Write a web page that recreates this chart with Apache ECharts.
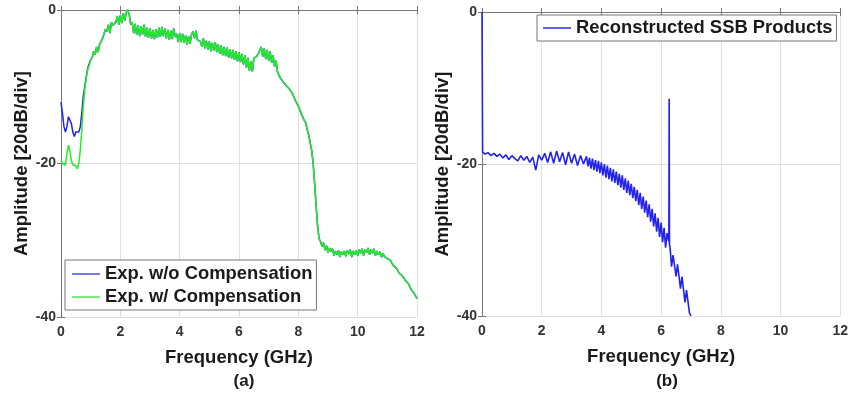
<!DOCTYPE html>
<html><head><meta charset="utf-8">
<script src="https://cdn.jsdelivr.net/npm/echarts@6/dist/echarts.min.js"></script>
<style>html,body{margin:0;padding:0;background:#fff}#c{width:851px;height:393px}</style>
</head><body><div id="c"></div>
<script>
// ---- Data ----
const xTicks = [0, 2, 4, 6, 8, 10, 12];
const yTicks = [-40, -20, 0];
const legendA = ['Exp. w/o Compensation', 'Exp. w/ Compensation'];
const legendB = ['Reconstructed SSB Products'];
const captions = ['(a)', '(b)'];

// Panel (a): with compensation [GHz, dB]
const greenComp = [[0,-19.6],[0.05,-20.0],[0.1,-19.9],[0.15,-20.2],[0.2,-18.7],[0.25,-17.6],[0.3,-18.4],[0.35,-19.6],[0.4,-20.2],[0.45,-20.4],[0.5,-20.3],[0.55,-20.7],[0.6,-20.0],[0.65,-18.3],[0.7,-15.7],[0.75,-12.6],[0.8,-10.4],[0.85,-8.9],[0.9,-7.8],[0.95,-7.2],[1.0,-6.5],[1.05,-6.2],[1.1,-5.4],[1.15,-5.8],[1.2,-4.8],[1.25,-5.5],[1.3,-4.5],[1.35,-4.7],[1.4,-3.7],[1.45,-3.6],[1.5,-2.5],[1.55,-2.8],[1.6,-1.9],[1.65,-3.0],[1.7,-1.6],[1.75,-2.0],[1.8,-1.9],[1.85,-1.6],[1.9,-0.8],[1.95,-1.9],[2.0,-0.7],[2.05,-1.7],[2.1,-0.4],[2.15,-1.4],[2.2,-0.3],[2.25,0],[2.3,-0.6],[2.35,-1.9],[2.4,-1.6],[2.45,-3.0],[2.5,-1.8],[2.55,-3.2],[2.6,-2.0],[2.65,-3.4],[2.7,-2.1],[2.75,-3.2],[2.8,-1.9],[2.85,-3.5],[2.9,-2.3],[2.95,-3.6],[3.0,-2.4],[3.05,-3.7],[3.1,-2.6],[3.15,-3.8],[3.2,-2.5],[3.25,-3.6],[3.3,-2.3],[3.35,-3.5],[3.4,-2.2],[3.45,-3.4],[3.5,-2.4],[3.55,-3.7],[3.6,-2.6],[3.65,-3.9],[3.7,-2.7],[3.75,-3.8],[3.8,-2.4],[3.85,-3.5],[3.9,-3.1],[3.95,-4.2],[4.0,-3.0],[4.05,-4.2],[4.1,-3.1],[4.15,-4.3],[4.2,-3.3],[4.25,-4.5],[4.3,-3.4],[4.35,-4.4],[4.4,-3.2],[4.45,-2.8],[4.5,-3.7],[4.55,-2.7],[4.6,-3.9],[4.65,-3.9],[4.7,-4.1],[4.75,-4.8],[4.8,-3.7],[4.85,-5.0],[4.9,-4.0],[4.95,-5.2],[5.0,-4.1],[5.05,-5.4],[5.1,-4.3],[5.15,-5.3],[5.2,-4.2],[5.25,-5.5],[5.3,-4.5],[5.35,-5.7],[5.4,-4.6],[5.45,-5.9],[5.5,-4.8],[5.55,-6.0],[5.6,-4.9],[5.65,-6.2],[5.7,-5.1],[5.75,-6.3],[5.8,-5.2],[5.85,-6.5],[5.9,-5.4],[5.95,-6.7],[6.0,-5.5],[6.05,-6.8],[6.1,-5.7],[6.15,-7.1],[6.2,-5.9],[6.25,-7.5],[6.3,-6.2],[6.35,-7.9],[6.4,-6.7],[6.45,-8.0],[6.5,-6.3],[6.55,-6.2],[6.6,-6.0],[6.65,-5.7],[6.7,-5.6],[6.75,-4.8],[6.8,-6.1],[6.85,-5.0],[6.9,-6.4],[6.95,-5.2],[7.0,-6.6],[7.05,-5.4],[7.1,-6.9],[7.15,-5.9],[7.2,-7.4],[7.25,-6.6],[7.3,-8.1],[7.35,-7.9],[7.4,-8.9],[7.45,-9.0],[7.5,-9.4],[7.55,-9.5],[7.6,-9.9],[7.65,-10.0],[7.7,-10.3],[7.75,-10.5],[7.8,-10.9],[7.85,-11.0],[7.9,-11.8],[7.95,-12.0],[8.0,-12.5],[8.05,-12.7],[8.1,-13.5],[8.15,-13.7],[8.2,-14.4],[8.25,-14.7],[8.3,-15.6],[8.35,-16.3],[8.4,-17.3],[8.45,-18.3],[8.5,-20.0],[8.55,-22.6],[8.6,-25.5],[8.65,-28.2],[8.7,-29.8],[8.75,-30.2],[8.8,-30.8],[8.85,-30.3],[8.9,-31.3],[8.95,-30.7],[9.0,-31.6],[9.05,-31.0],[9.1,-31.5],[9.15,-31.1],[9.2,-32.0],[9.25,-31.4],[9.3,-31.9],[9.35,-31.3],[9.4,-32.2],[9.45,-31.5],[9.5,-31.9],[9.55,-31.4],[9.6,-32.1],[9.65,-31.3],[9.7,-31.8],[9.75,-31.2],[9.8,-32.2],[9.85,-31.4],[9.9,-31.9],[9.95,-31.3],[10.0,-32.0],[10.05,-31.2],[10.1,-31.7],[10.15,-31.1],[10.2,-32.0],[10.25,-31.2],[10.3,-31.6],[10.35,-31.0],[10.4,-31.9],[10.45,-31.2],[10.5,-31.7],[10.55,-31.1],[10.6,-32.0],[10.65,-31.4],[10.7,-31.9],[10.75,-31.5],[10.8,-32.2],[10.85,-31.7],[10.9,-32.1],[10.95,-31.9],[11.0,-32.4],[11.1,-32.6],[11.2,-33.3],[11.3,-33.6],[11.4,-34.3],[11.5,-34.6],[11.6,-35.2],[11.7,-35.6],[11.8,-36.4],[11.9,-36.9],[12.0,-37.6]];

// Panel (a): without compensation, low-frequency part (above 1 GHz it coincides with the compensated trace)
const blueNoCompLow = [[0,-12.0],[0.05,-13.5],[0.1,-15.2],[0.15,-15.9],[0.2,-15.2],[0.25,-13.9],[0.3,-13.7],[0.35,-14.8],[0.4,-15.9],[0.45,-16.5],[0.5,-15.9],[0.55,-16.1],[0.6,-15.9],[0.65,-15.2],[0.7,-13.5],[0.75,-11.3],[0.8,-10.0],[0.85,-8.7],[0.9,-7.6],[0.95,-7.0]];

// Panel (b): reconstructed SSB products [GHz, dB]
const ssb = [[0,0],[0.02,-18.4],[0.1,-18.7],[0.2,-18.5],[0.3,-18.9],[0.4,-18.6],[0.5,-19.0],[0.6,-18.7],[0.7,-19.2],[0.8,-18.8],[0.9,-19.4],[1.0,-18.9],[1.1,-19.3],[1.2,-19.6],[1.3,-18.9],[1.4,-19.5],[1.5,-19.0],[1.6,-19.8],[1.7,-19.1],[1.8,-20.8],[1.9,-18.8],[2.0,-19.5],[2.1,-18.6],[2.2,-19.8],[2.3,-18.4],[2.4,-19.9],[2.5,-18.3],[2.6,-19.7],[2.7,-18.5],[2.8,-20.1],[2.9,-18.4],[3.0,-19.9],[3.1,-18.7],[3.2,-20.2],[3.3,-18.9],[3.4,-20.0],[3.5,-19.0],[3.55,-20.3],[3.6,-19.2],[3.65,-20.6],[3.7,-19.3],[3.75,-20.8],[3.8,-19.5],[3.85,-21.0],[3.9,-19.6],[3.95,-21.2],[4.0,-19.8],[4.05,-21.5],[4.1,-20.0],[4.15,-21.8],[4.2,-20.2],[4.25,-22.0],[4.3,-20.5],[4.35,-22.3],[4.4,-20.7],[4.45,-22.5],[4.5,-21.0],[4.55,-22.8],[4.6,-21.3],[4.65,-23.1],[4.7,-21.5],[4.75,-23.4],[4.8,-21.9],[4.85,-23.8],[4.9,-22.2],[4.95,-24.1],[5.0,-22.6],[5.05,-24.5],[5.1,-23.0],[5.15,-24.9],[5.2,-23.4],[5.25,-25.4],[5.3,-23.8],[5.35,-25.9],[5.4,-24.3],[5.45,-26.4],[5.5,-24.8],[5.55,-27.0],[5.6,-25.3],[5.65,-27.6],[5.7,-25.9],[5.75,-28.2],[5.8,-26.5],[5.85,-28.9],[5.9,-27.1],[5.95,-29.6],[6.0,-27.7],[6.05,-30.3],[6.1,-28.4],[6.15,-31.0],[6.2,-29.1],[6.26,-30.2],[6.27,-11.4],[6.28,-30.6],[6.3,-31.0],[6.35,-33.5],[6.4,-32.0],[6.5,-34.8],[6.55,-33.2],[6.65,-36.4],[6.7,-34.8],[6.8,-38.2],[6.85,-36.6],[6.95,-39.6],[7.0,-40]];

// ---- Chart ----
const FONT = '"Liberation Sans", Arial, sans-serif';
const blueNoComp = blueNoCompLow.concat(greenComp.filter(p => p[0] >= 1.0));

function xAx(gi) {
  return [{
    type: 'value', gridIndex: gi, min: xTicks[0], max: xTicks[xTicks.length-1], interval: 2,
    name: 'Frequency (GHz)', nameLocation: 'middle', nameGap: 31,
    nameTextStyle: {fontFamily: FONT, fontWeight: 'bold', fontSize: 18.5, color: '#1a1a1a'},
    axisLine: {lineStyle: {color: '#777'}},
    axisTick: {inside: true, length: 4, lineStyle: {color: '#777'}},
    axisLabel: {fontFamily: FONT, fontWeight: 'bold', fontSize: 14, color: '#333', margin: 8},
    splitLine: {show: true, lineStyle: {color: '#e0e0e0'}}
  }, {
    type: 'value', gridIndex: gi, position: 'top', min: 0, max: 12, interval: 2,
    axisLine: {lineStyle: {color: '#777'}},
    axisTick: {inside: true, length: 4, lineStyle: {color: '#777'}},
    axisLabel: {show: false}, splitLine: {show: false}
  }];
}
function yAx(gi, gap) {
  return [{
    type: 'value', gridIndex: gi, min: yTicks[0], max: yTicks[yTicks.length-1], interval: 20,
    name: 'Amplitude [20dB/div]', nameLocation: 'middle', nameGap: gap,
    nameTextStyle: {fontFamily: FONT, fontWeight: 'bold', fontSize: 18.5, color: '#1a1a1a'},
    axisLine: {show: true, lineStyle: {color: '#777'}},
    axisTick: {show: true, inside: true, length: 4, lineStyle: {color: '#777'}},
    axisLabel: {fontFamily: FONT, fontWeight: 'bold', fontSize: 14, color: '#333', margin: 5},
    splitLine: {show: true, lineStyle: {color: '#e0e0e0'}}
  }, {
    type: 'value', gridIndex: gi, position: 'right', min: -40, max: 0, interval: 20,
    axisLine: {show: true, lineStyle: {color: '#777'}},
    axisTick: {show: true, inside: true, length: 4, lineStyle: {color: '#777'}},
    axisLabel: {show: false}, splitLine: {show: false}
  }];
}

const legendCommon = {
  orient: 'vertical', icon: 'rect', itemWidth: 28, itemHeight: 1.5, itemGap: 5,
  backgroundColor: '#fff', borderColor: '#777', borderWidth: 1, borderRadius: 0,
  textStyle: {fontFamily: FONT, fontWeight: 'bold', fontSize: 18.4, color: '#1a1a1a'}
};

const chart = echarts.init(document.getElementById('c'), null, {renderer: 'canvas'});
chart.setOption({
  animation: false,
  backgroundColor: '#fff',
  grid: [
    {left: 61, right: 434, top: 10, bottom: 76},
    {left: 482, right: 8, top: 12, bottom: 77}
  ],
  xAxis: xAx(0).concat(xAx(1)),
  yAxis: yAx(0, 30).concat(yAx(1, 26)),
  title: [
    {text: captions[0], left: 239, top: 368, textAlign: 'center',
     textStyle: {fontFamily: FONT, fontWeight: 'bold', fontSize: 17, color: '#1a1a1a'}},
    {text: captions[1], left: 662, top: 368, textAlign: 'center',
     textStyle: {fontFamily: FONT, fontWeight: 'bold', fontSize: 17, color: '#1a1a1a'}}
  ],
  legend: [
    Object.assign({}, legendCommon, {data: legendA, left: 65, top: 260, padding: [5, 4, 4, 7]}),
    Object.assign({}, legendCommon, {data: legendB, left: 537, top: 15, padding: [4, 4, 4, 6]})
  ],
  series: [
    {name: legendA[0], type: 'line', xAxisIndex: 0, yAxisIndex: 0, data: blueNoComp,
     symbol: 'none', lineStyle: {color: '#2222ee', width: 1.5}, itemStyle: {color: '#4a4ae0'}},
    {name: legendA[1], type: 'line', xAxisIndex: 0, yAxisIndex: 0, data: greenComp,
     symbol: 'none', lineStyle: {color: '#22ee22', width: 1.5}, itemStyle: {color: '#55e055'}},
    {name: legendB[0], type: 'line', xAxisIndex: 2, yAxisIndex: 2, data: ssb,
     symbol: 'none', lineStyle: {color: '#2222ee', width: 1.6}, itemStyle: {color: '#2a2aee'}}
  ]
});
</script>
</body></html>
